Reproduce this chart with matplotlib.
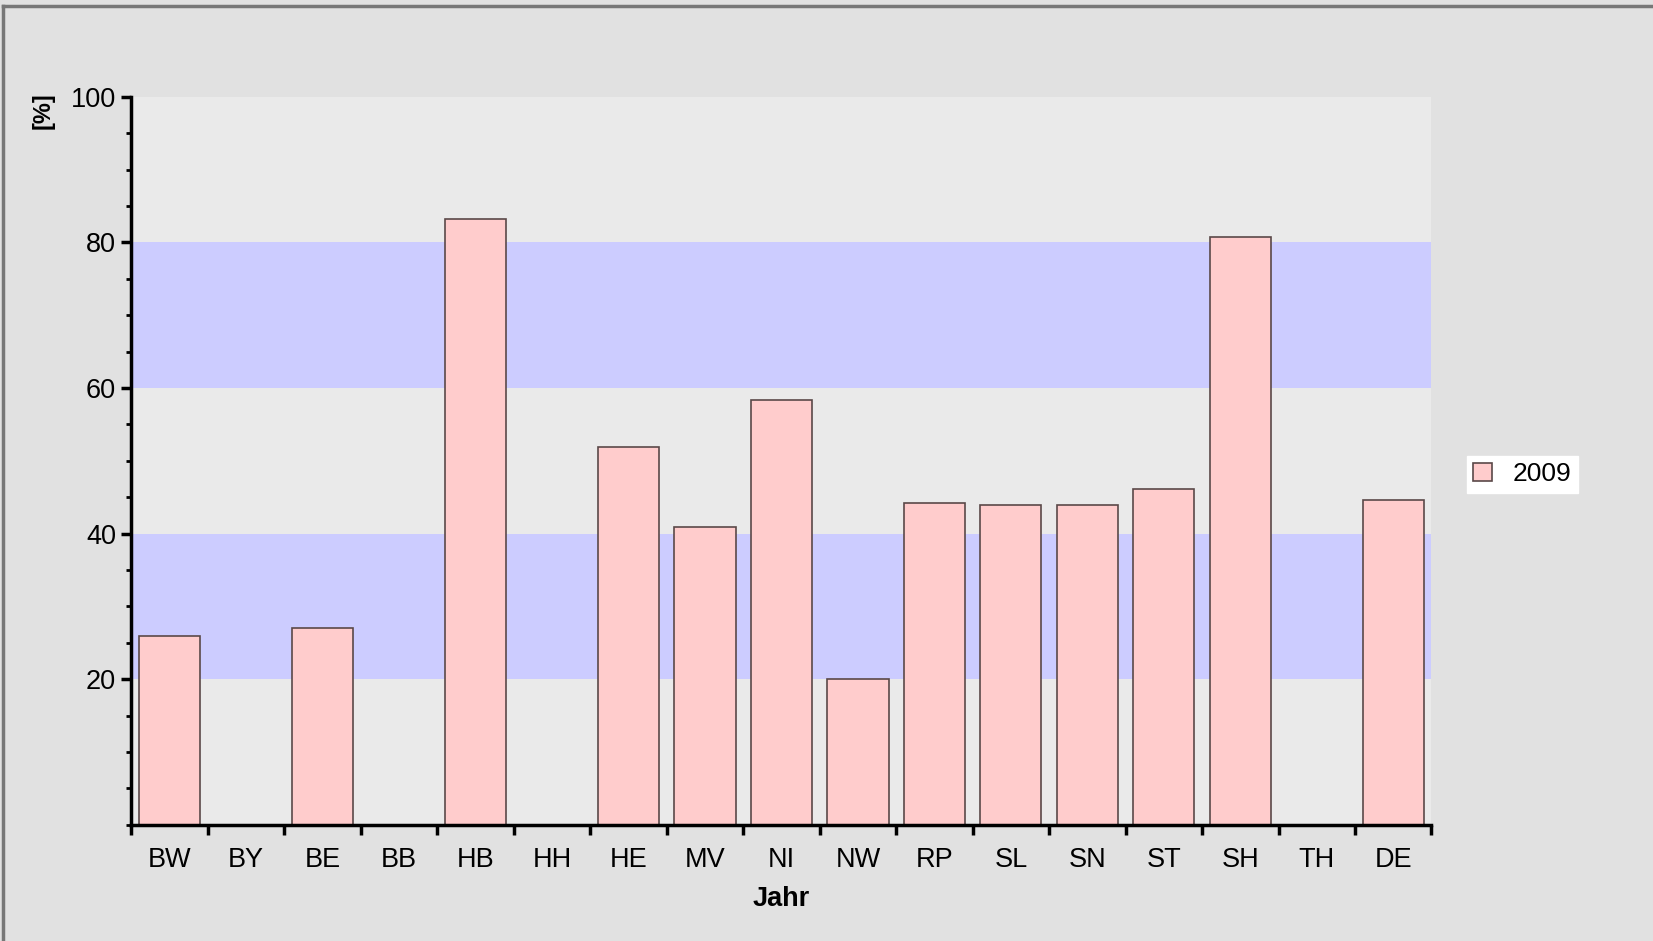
"""
Balkendiagramm: Anteil [%] je Bundesland, Jahr 2009
"""

import numpy as np
import matplotlib
matplotlib.use("Agg")
import matplotlib.pyplot as plt
from matplotlib.ticker import MultipleLocator, FixedLocator, NullFormatter
from matplotlib.lines import Line2D

plt.rcParams["font.family"] = ["Liberation Sans", "DejaVu Sans"]

# ── Daten ──────────────────────────────────────────────────────────────────────
LAENDER = ["BW", "BY", "BE", "BB", "HB", "HH", "HE", "MV", "NI",
           "NW", "RP", "SL", "SN", "ST", "SH", "TH", "DE"]
WERTE_2009 = [25.9, np.nan, 27.1, np.nan, 83.2, np.nan, 51.9, 40.9, 58.3,
              20.0, 44.2, 43.9, 43.9, 46.1, 80.8, np.nan, 44.6]
BAENDER = [(20, 40), (60, 80)]
Y_TICKS = [20, 40, 60, 80, 100]
SERIE = "2009"

# ── Farben ─────────────────────────────────────────────────────────────────────
FIG_BG = "#E1E1E1"
AX_BG = "#EAEAEA"
BAND = "#CCCCFF"
BAR = "#FFCCCC"
BAR_EDGE = "#5A4848"

fig = plt.figure(figsize=(16.53, 9.41), dpi=100, facecolor=FIG_BG)
ax = fig.add_axes([0.0795, 0.1235, 0.7865, 0.7735])
ax.set_facecolor(AX_BG)

x = np.arange(len(LAENDER))
for lo, hi in BAENDER:
    ax.axhspan(lo, hi, color=BAND, zorder=0, lw=0)

ax.bar(x, WERTE_2009, width=0.8, color=BAR, edgecolor=BAR_EDGE,
       linewidth=1.2, zorder=2, label=SERIE)

ax.set_xlim(-0.5, len(LAENDER) - 0.5)
ax.set_ylim(0, 100)

# Achsen
for side in ("top", "right"):
    ax.spines[side].set_visible(False)
for side in ("left", "bottom"):
    ax.spines[side].set_linewidth(2.5)
    ax.spines[side].set_color("black")

ax.set_yticks(Y_TICKS)
ax.yaxis.set_minor_locator(MultipleLocator(5))
ax.tick_params(axis="y", which="major", length=7, width=2.5, labelsize=19.5, pad=4)
ax.tick_params(axis="y", which="minor", length=3.5, width=2)

ax.set_xticks(x)
ax.set_xticklabels(LAENDER)
ax.xaxis.set_minor_locator(FixedLocator(np.arange(len(LAENDER) + 1) - 0.5))
ax.xaxis.set_minor_formatter(NullFormatter())
ax.tick_params(axis="x", which="major", length=0, labelsize=19.5, pad=16)
ax.tick_params(axis="x", which="minor", length=7, width=2.5)

ax.set_xlabel("Jahr", fontsize=19.5, fontweight="bold", labelpad=9)
fig.text(0.026, 0.882, "[%]", rotation=90, fontsize=17, fontweight="bold",
         ha="center", va="center")

# Legende
fig.legend(loc="center", bbox_to_anchor=(0.921, 0.496), fontsize=19,
           frameon=True, facecolor="white", edgecolor="white", framealpha=1,
           fancybox=False, handlelength=0.7, handleheight=0.7,
           borderpad=0.25, handletextpad=0.8)

# Rahmen oben/links
fig.add_artist(Line2D([0.002, 0.002], [0, 0.994], transform=fig.transFigure,
                      color="#777777", lw=2.5))
fig.add_artist(Line2D([0.002, 1], [0.994, 0.994], transform=fig.transFigure,
                      color="#777777", lw=2.5))

fig.savefig("out.png", dpi=100, facecolor=FIG_BG)
